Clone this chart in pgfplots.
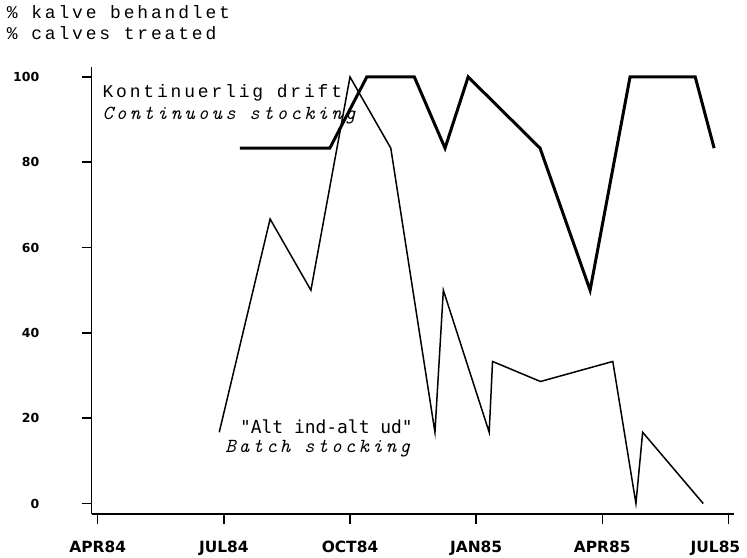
\documentclass[border=0pt]{standalone}
\usepackage{fontspec}
\usepackage{pgfplots}
\pgfplotsset{compat=1.18}
\newfontfamily\plotmono[LetterSpace=16]{Liberation Mono}
\newfontfamily\quotemono{DejaVu Sans Mono}
\newfontfamily\ticksans{DejaVu Sans}
\newfontfamily\scriptfam[LetterSpace=16]{lmmono10-italic.otf}
\newcommand\scriptit{\scriptfam\fontsize{20}{20}\selectfont}
\newcommand\monotext{\plotmono\fontsize{18}{18}\selectfont}

\begin{document}
\begin{tikzpicture}
\path[use as bounding box] (-91.7bp,-44bp) rectangle (655.3bp,514bp);
\begin{axis}[
  at={(0,0)}, anchor=south west,
  scale only axis, width=642.2bp, height=447.3bp,
  xmin=2.857, xmax=18.13, ymin=-2.46, ymax=102.4,
  axis x line*=bottom, axis y line*=left,
  axis line style={-, line width=1.5bp},
  tick align=outside, major tick length=10bp,
  tick style={black, line width=1.5bp},
  xtick={3,6,9,12,15},
  xticklabels={APR84,JUL84,OCT84,JAN85,APR85},
  extra x ticks={18},
  extra x tick labels={JUL85},
  extra x tick style={xticklabel style={xshift=-13bp}},
  ytick={0,20,40,60,80,100},
  /pgf/number format/assume math mode=true,
  xticklabel style={font=\ticksans\bfseries\fontsize{15.5}{16}\selectfont, yshift=-14bp},
  yticklabel style={font=\ticksans\bfseries\fontsize{12.5}{13}\selectfont, xshift=-39bp},
  clip=false,
]
% continuous stocking (months since Jan 1984, % calves treated)
\addplot[black, line width=3bp] coordinates {
  (6.38,83.3) (8.52,83.3) (9.40,100) (10.53,100) (11.26,83.3) (11.81,100)
  (13.52,83.3) (14.71,50) (15.66,100) (17.21,100) (17.66,83.3)
};
% batch stocking
\addplot[black, line width=1.5bp] coordinates {
  (5.89,16.7) (7.10,66.7) (8.07,50) (9.00,100) (9.97,83.3) (11.02,16.7)
  (11.22,50) (12.31,16.7) (12.39,33.3) (13.53,28.6) (15.25,33.3)
  (15.80,0) (15.96,16.7) (17.40,0)
};
\node[anchor=base west, inner sep=0, font=\monotext]
  at (axis cs:3.11,95.1) {Kontinuerlig drift};
\node[anchor=base west, inner sep=0, font=\scriptit]
  at (axis cs:3.11,90.1) {Continuous stocking};
\node[anchor=base west, inner sep=0, font=\quotemono\fontsize{18}{18}\selectfont]
  at (axis cs:6.38,16.5) {"Alt ind-alt ud"};
\node[anchor=base west, inner sep=0, font=\scriptit]
  at (axis cs:6.03,12.0) {Batch stocking};
\end{axis}
\node[anchor=base west, inner sep=0, font=\monotext]
  at (-85bp,495.7bp) {\% kalve behandlet};
\node[anchor=base west, inner sep=0, font=\monotext]
  at (-85bp,474bp) {\% calves treated};
\end{tikzpicture}
\end{document}
